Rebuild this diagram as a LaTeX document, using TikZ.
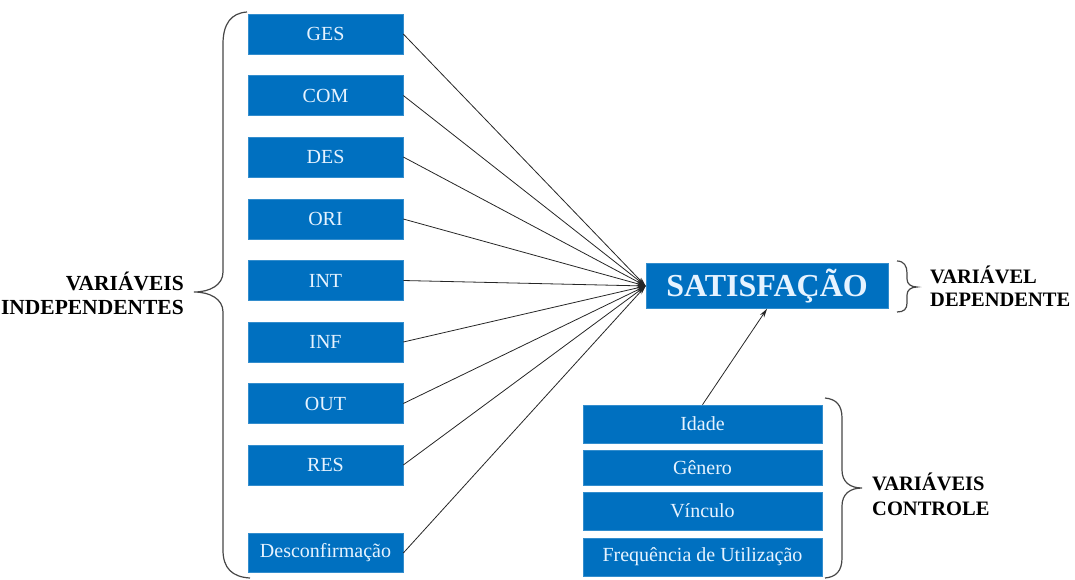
\documentclass[tikz,border=0pt]{standalone}
\usepackage{fontspec}
\setmainfont{Liberation Serif}
\usetikzlibrary{arrows.meta}
\definecolor{boxblue}{RGB}{0,112,192}
\definecolor{boxtext}{RGB}{230,243,255}
\definecolor{bracegray}{RGB}{70,70,70}
\tikzset{
  varbox/.style={draw=boxblue!80!white, line width=0.6pt, fill=boxblue, text=boxtext, minimum width=155pt, minimum height=40pt, inner sep=0pt, font=\fontsize{20}{22}\selectfont},
  ctrlbox/.style={draw=boxblue!80!white, line width=0.6pt, fill=boxblue, text=boxtext, minimum width=239pt, inner sep=0pt, font=\fontsize{20}{22}\selectfont},
  link/.style={line width=0.8pt, black!85, -{Stealth[length=9pt,width=5pt]}},
  bracestyle/.style={line width=1.2pt, bracegray},
  lbl/.style={font=\bfseries\fontsize{20.5}{24}\selectfont, inner sep=0pt},
  lblbig/.style={font=\bfseries\fontsize{21.5}{24}\selectfont, inner sep=0pt}
}
\begin{document}
\begin{tikzpicture}[x=1pt,y=-1pt]
\useasboundingbox (0,0) rectangle (1075,579);
% left boxes
\node[varbox] (ges) at (325.5,34) {GES};
\node[varbox] (com) at (325.5,95.5) {COM};
\node[varbox] (des) at (325.5,157) {DES};
\node[varbox] (ori) at (325.5,219) {ORI};
\node[varbox] (int) at (325.5,280.5) {INT};
\node[varbox] (inf) at (325.5,342) {INF};
\node[varbox] (out) at (325.5,403.5) {OUT};
\node[varbox] (res) at (325.5,465) {RES};
\node[varbox, minimum height=39pt] (dcf) at (325.5,553) {Desconfirmação};
% dependent
\node[draw=boxblue!80!white, line width=0.6pt, fill=boxblue, text=boxtext, minimum width=242pt, minimum height=45pt, inner sep=0pt, font=\bfseries\fontsize{32}{36}\selectfont] (sat) at (767,286) {SATISFAÇÃO};
% control boxes
\node[ctrlbox, minimum height=38pt] (ida) at (702.5,424) {Idade};
\node[ctrlbox, minimum height=35pt] (gen) at (702.5,468) {Gênero};
\node[ctrlbox, minimum height=38pt] (vin) at (702.5,511) {Vínculo};
\node[ctrlbox, minimum height=38pt] (fre) at (702.5,557) {Frequência de Utilização};
% connectors
\foreach \n in {ges,com,des,ori,int,inf,out,res,dcf}
  \draw[link] (\n.east) -- (sat.west);
\draw[link] (ida.north) -- (sat.south);
% braces
\draw[bracestyle] (247,12) .. controls (231,13) and (223,24) .. (223,44) -- (223,272) .. controls (223,285) and (210,292) .. (194,292) .. controls (210,292) and (223,299) .. (223,312) -- (223,550) .. controls (223,568) and (232,577) .. (250,578);
\draw[bracestyle] (897,261) .. controls (904,261) and (907,266) .. (907,273) -- (907,279) .. controls (907,284) and (911,287) .. (917,287) .. controls (911,287) and (907,290) .. (907,295) -- (907,303) .. controls (907,309) and (904,312) .. (897,312);
\draw[bracestyle] (825,398) .. controls (836,399) and (842,405) .. (842,418) -- (842,470) .. controls (842,482) and (850,488) .. (862,488) .. controls (850,488) and (842,494) .. (842,506) -- (842,558) .. controls (842,571) and (836,577) .. (825,578);
% labels
\node[lblbig, anchor=base east] (li1) at (184,290) {VARIÁVEIS};
\node[lblbig, anchor=base east] (li2) at (184,314) {INDEPENDENTES};
\node[lbl, anchor=base west] (ld1) at (930,283) {VARIÁVEL};
\node[lbl, anchor=base west] (ld2) at (930,306) {DEPENDENTE};
\node[lbl, anchor=base west] (lc1) at (872,490) {VARIÁVEIS};
\node[lbl, anchor=base west] (lc2) at (872,515) {CONTROLE};
\end{tikzpicture}
\end{document}
